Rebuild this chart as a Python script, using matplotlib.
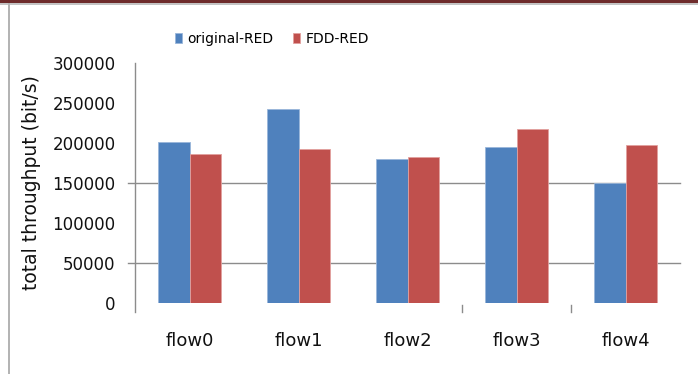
import matplotlib
matplotlib.use("Agg")
import matplotlib.pyplot as plt
from matplotlib.patches import Rectangle
from matplotlib.lines import Line2D
import matplotlib.transforms as mtransforms
import numpy as np

plt.rcParams['font.family'] = ['DejaVu Sans']

flows = ["flow0", "flow1", "flow2", "flow3", "flow4"]
original_red = [201000, 242500, 180500, 195500, 150000]
fdd_red = [186000, 193000, 183000, 218000, 198000]
y_ticks = [0, 50000, 100000, 150000, 200000, 250000, 300000]
grid_levels = [50000, 150000]

W, H = 698, 374
fig = plt.figure(figsize=(W / 100, H / 100), dpi=100)

# page frame: maroon band on top, grey rules along top and left
fig.add_artist(Rectangle((0, 1 - 3 / H), 1, 3 / H, transform=fig.transFigure,
                         facecolor="#6e2b2b", edgecolor="none"))
fig.add_artist(Rectangle((0, 1 - 5 / H), 1, 2 / H, transform=fig.transFigure,
                         facecolor="#c4c4c4", edgecolor="none"))
fig.add_artist(Rectangle((8 / W, 0), 2 / W, 1 - 3 / H, transform=fig.transFigure,
                         facecolor="#b4b4b4", edgecolor="none"))

ax = fig.add_axes([135 / W, 1 - 303 / H, 545 / W, 240 / H])

x = np.arange(len(flows))
bw = 0.29
ax.bar(x - bw / 2, original_red, bw, color="#4f81bd", edgecolor="#9ab6da",
       linewidth=0.6, label="original-RED")
ax.bar(x + bw / 2, fdd_red, bw, color="#c0504d", edgecolor="#e2a09e",
       linewidth=0.6, label="FDD-RED")

ax.set_xlim(-0.5, len(flows) - 0.5)
ax.set_ylim(0, 300000)

for s in ("top", "right", "bottom", "left"):
    ax.spines[s].set_visible(False)

# vertical axis line, running a little below zero
ax.add_line(Line2D([0, 0], [-9 / 240, 1], transform=ax.transAxes,
                   color="#8c8c8c", lw=1.0, clip_on=False))

# horizontal gridlines with a short tick stub left of the axis
ytr = mtransforms.blended_transform_factory(ax.transAxes, ax.transData)
for g in grid_levels:
    ax.add_line(Line2D([-7 / 545, 1], [g, g], transform=ytr, color="#8c8c8c",
                       lw=1.0, clip_on=False, zorder=0.5))

# category boundary ticks below the plot
xtr = mtransforms.blended_transform_factory(ax.transData, ax.transAxes)
for b in (2.5, 3.5):
    ax.add_line(Line2D([b, b], [-2 / 240, -9 / 240], transform=xtr,
                       color="#8c8c8c", lw=1.0, clip_on=False))

ax.set_yticks(y_ticks)
ax.set_yticklabels([str(v) for v in y_ticks], fontsize=12, color="#111111")
ax.tick_params(axis="y", length=0, pad=14)
ax.set_xticks(x)
ax.set_xticklabels(flows, fontsize=13, color="#111111")
ax.tick_params(axis="x", length=0, pad=21)

ax.set_ylabel("total throughput (bit/s)", fontsize=13.5, labelpad=8,
              color="#111111")

ax.legend(loc="center", bbox_to_anchor=(272 / W, 1 - 39 / H),
          bbox_transform=fig.transFigure, ncol=2,
          frameon=False, fontsize=10, handlelength=0.45, handleheight=0.75,
          handletextpad=0.4, columnspacing=1.45, borderaxespad=0, borderpad=0)

fig.savefig("out.png", dpi=100)
